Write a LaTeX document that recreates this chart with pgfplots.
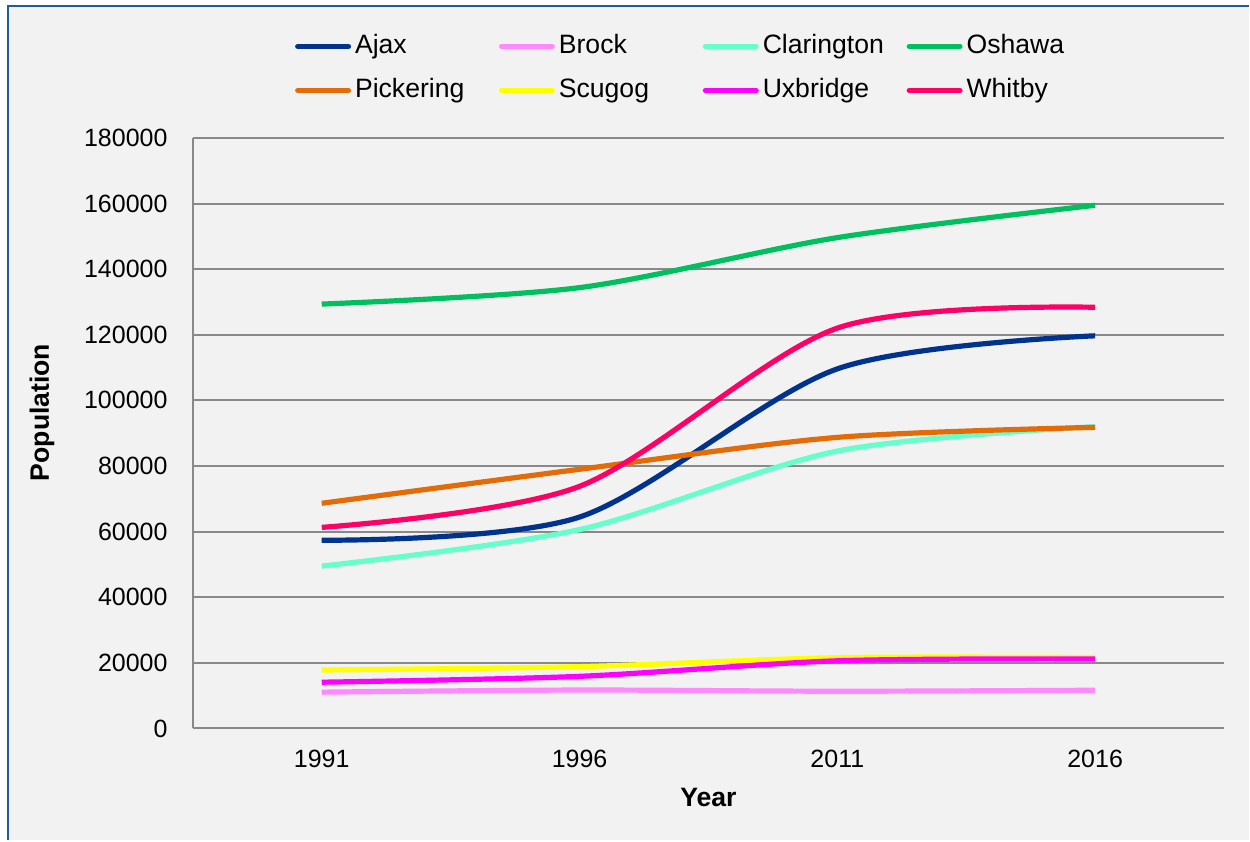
\documentclass[border=0pt]{standalone}
\usepackage{pgfplots}
\pgfplotsset{compat=1.18}
\usepackage{fontspec}
\setmainfont{Liberation Sans}
\definecolor{bgc}{HTML}{F2F2F2}
\definecolor{bordc}{HTML}{1F5C99}
\definecolor{gridc}{HTML}{898989}
\definecolor{cajax}{HTML}{00338E}
\definecolor{cbrock}{HTML}{FF8AFF}
\definecolor{cclar}{HTML}{66FFCC}
\definecolor{cosh}{HTML}{00BF5F}
\definecolor{cpick}{HTML}{E36C09}
\definecolor{cscug}{HTML}{FFFF00}
\definecolor{cuxb}{HTML}{FF00FF}
\definecolor{cwhit}{HTML}{FF0066}
\begin{document}
\begin{tikzpicture}
\fill[white] (0,0) rectangle (625pt,-420.5pt);
\fill[bgc] (4pt,-3pt) rectangle (625pt,-420.5pt);
\draw[bordc, line width=1pt] (4pt,-420.5pt) -- (4pt,-3pt) -- (625pt,-3pt);
\begin{axis}[
  at={(96.5pt,-364.5pt)}, anchor=south west,
  scale only axis, width=516pt, height=295.5pt,
  xmin=-0.5, xmax=3.5, ymin=0, ymax=180000,
  xtick={0,1,2,3}, xticklabels={1991,1996,2011,2016},
  ytick={0,20000,...,180000},
  scaled y ticks=false,
  axis x line=bottom, axis y line=left,
  axis line style={-, draw=gridc, line width=1pt},
  major tick length=0pt,
  ymajorgrids, grid style={gridc, line width=1pt},
  /pgf/number format/assume math mode=true,
  /pgf/number format/fixed,
  /pgf/number format/1000 sep={},
  tick label style={font=\fontsize{12.5}{15}\selectfont, inner sep=0pt},
  yticklabel style={xshift=-12.5pt},
  xticklabel style={yshift=-10.5pt},
  ylabel={Population},
  ylabel style={font=\bfseries\fontsize{13.3}{15}\selectfont, at={(axis description cs:-0.1463,0.535)}, anchor=center},
  xlabel={Year},
  xlabel style={font=\bfseries\fontsize{13.3}{15}\selectfont, at={(axis description cs:0.5,-0.1168)}, anchor=center},
  legend columns=4,
  legend image code/.code={\draw[#1, line cap=round] (1.3pt,0pt) -- (26.7pt,0pt);},
  legend style={at={(axis description cs:0.0988,1.183)}, anchor=north west, draw=none, fill=none, inner sep=0pt,
    font=\fontsize{13.3}{15}\selectfont, row sep=5.8pt,
    nodes={text height=9.5pt, text depth=2.7pt, inner sep=2pt, anchor=west},
    /tikz/every even column/.append style={column sep=0pt}},
  legend cell align=left,
  every axis plot/.append style={line width=2.6pt, smooth, tension=0.5},
]
\addplot[cajax] coordinates {(0,57350) (1,64430) (2,109600) (3,119677)};
\addlegendentry{\makebox[70pt][l]{Ajax}}
\addplot[cbrock] coordinates {(0,11057) (1,11705) (2,11341) (3,11642)};
\addlegendentry{\makebox[70pt][l]{Brock}}
\addplot[cclar] coordinates {(0,49479) (1,60615) (2,84548) (3,92013)};
\addlegendentry{\makebox[70pt][l]{Clarington}}
\addplot[cosh] coordinates {(0,129344) (1,134364) (2,149607) (3,159458)};
\addlegendentry{Oshawa}
\addplot[cpick] coordinates {(0,68631) (1,78989) (2,88721) (3,91771)};
\addlegendentry{Pickering}
\addplot[cscug] coordinates {(0,17810) (1,18837) (2,21569) (3,21617)};
\addlegendentry{Scugog}
\addplot[cuxb] coordinates {(0,14092) (1,15882) (2,20623) (3,21176)};
\addlegendentry{Uxbridge}
\addplot[cwhit] coordinates {(0,61281) (1,73794) (2,122022) (3,128377)};
\addlegendentry{Whitby}
\end{axis}
\end{tikzpicture}
\end{document}
